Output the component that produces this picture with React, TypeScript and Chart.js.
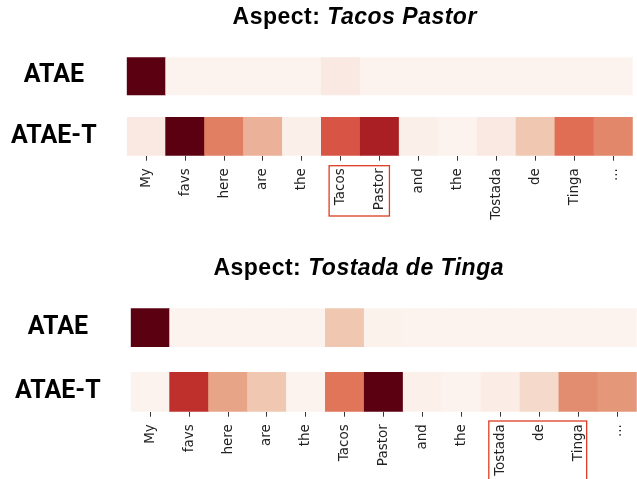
import React, { useEffect, useRef } from 'react';
import { Chart, registerables } from 'chart.js';

Chart.register(...registerables);

// ---------- data ----------
const TOKENS = ['My', 'favs', 'here', 'are', 'the', 'Tacos', 'Pastor', 'and', 'the', 'Tostada', 'de', 'Tinga', '...'];
const ROW_LABELS = ['ATAE', 'ATAE-T'];

const ASPECT_1 = 'Tacos Pastor';
const ASPECT_1_SPAN = [5, 6];
const ATAE_1 = [1.0, 0.01, 0.01, 0.01, 0.01, 0.09, 0.01, 0.01, 0.01, 0.01, 0.01, 0.01, 0.01];
const ATAE_T_1 = [0.09, 1.0, 0.5, 0.32, 0.04, 0.6, 0.85, 0.04, 0.01, 0.09, 0.25, 0.55, 0.47];

const ASPECT_2 = 'Tostada de Tinga';
const ASPECT_2_SPAN = [9, 11];
const ATAE_2 = [1.0, 0.01, 0.01, 0.01, 0.01, 0.25, 0.02, 0.01, 0.01, 0.01, 0.01, 0.01, 0.01];
const ATAE_T_2 = [0.01, 0.72, 0.38, 0.25, 0.01, 0.53, 1.0, 0.03, 0.01, 0.06, 0.18, 0.45, 0.42];

// colormap (Reds-like, as seen in the picture)
const CMAP_POS = [0.0, 0.1, 0.2, 0.25, 0.32, 0.38, 0.45, 0.5, 0.55, 0.6, 0.72, 0.85, 1.0];
const CMAP_COL = ['#fdf4ef', '#f9e8e0', '#f4d5c5', '#f0c8b2', '#ecb199', '#e8a487', '#e38d70', '#e07f62', '#e06e55', '#d85444', '#bf302c', '#aa1f24', '#5b0011'];

function hexToRgb(h: string): number[] {
  const n = parseInt(h.slice(1), 16);
  return [(n >> 16) & 255, (n >> 8) & 255, n & 255];
}

function colorFor(v: number): string {
  const t = Math.max(0, Math.min(1, v));
  let i = 0;
  while (i < CMAP_POS.length - 2 && t > CMAP_POS[i + 1]) i++;
  const a = hexToRgb(CMAP_COL[i]);
  const b = hexToRgb(CMAP_COL[i + 1]);
  const f = (t - CMAP_POS[i]) / (CMAP_POS[i + 1] - CMAP_POS[i]);
  const c = a.map((x, k) => Math.round(x + (b[k] - x) * f));
  return `rgb(${c[0]},${c[1]},${c[2]})`;
}

// ---------- decoration plugin: mixed-style title + aspect box ----------
const decoPlugin = {
  id: 'deco',
  afterDraw(chart: any, _args: any, opts: any) {
    const { ctx, chartArea } = chart;
    const xs = chart.scales.x;
    ctx.save();
    const f1 = 'bold 23px "Liberation Sans", Arial, sans-serif';
    const f2 = 'italic bold 23px "Liberation Sans", Arial, sans-serif';
    try {
      (ctx as any).letterSpacing = '0.5px';
    } catch (e) {}
    ctx.fillStyle = '#000';
    ctx.textBaseline = 'alphabetic';
    ctx.textAlign = 'left';
    ctx.font = f1;
    const w1 = ctx.measureText('Aspect: ').width;
    ctx.font = f2;
    const w2 = ctx.measureText(opts.aspect).width;
    const sx = chartArea.left + opts.titleDx - (w1 + w2) / 2;
    ctx.font = f1;
    ctx.fillText('Aspect: ', sx, opts.titleY);
    ctx.font = f2;
    ctx.fillText(opts.aspect, sx + w1, opts.titleY);
    try {
      (ctx as any).letterSpacing = '0px';
    } catch (e) {}

    const l = xs.getPixelForTick(opts.span[0]) - 11.7;
    const r = xs.getPixelForTick(opts.span[1]) + opts.boxRight;
    const t = chartArea.bottom + opts.boxTop;
    ctx.strokeStyle = '#dc3d22';
    ctx.lineWidth = 1.3;
    ctx.strokeRect(l, t, r - l, opts.boxH);
    ctx.restore();
  },
};

type PanelProps = {
  top: number;
  width: number;
  height: number;
  areaTop: number;
  areaBottom: number;
  areaLeft: number;
  yMax: number;
  gapLo: number;
  atae: number[];
  ataeT: number[];
  aspect: string;
  span: number[];
  titleY: number;
  titleDx: number;
  boxTop: number;
  boxH: number;
  boxRight: number;
};

function Panel(p: PanelProps) {
  const ref = useRef<HTMLCanvasElement>(null);
  useEffect(() => {
    if (!ref.current) return;
    const chart = new Chart(ref.current, {
      type: 'bar',
      data: {
        labels: TOKENS,
        datasets: [
          {
            label: ROW_LABELS[1],
            data: TOKENS.map(() => [0, 1]) as any,
            backgroundColor: p.ataeT.map(colorFor),
            grouped: false,
            barPercentage: 1,
            categoryPercentage: 1,
            borderWidth: 0,
          } as any,
          {
            label: ROW_LABELS[0],
            data: TOKENS.map(() => [p.gapLo, p.yMax]) as any,
            backgroundColor: p.atae.map(colorFor),
            grouped: false,
            barPercentage: 1,
            categoryPercentage: 1,
            borderWidth: 0,
          } as any,
        ],
      },
      options: {
        animation: false,
        responsive: false,
        maintainAspectRatio: false,
        layout: { padding: { top: p.areaTop, left: 0, right: 0, bottom: 0 } },
        plugins: {
          legend: { display: false },
          tooltip: { enabled: false },
          title: { display: false },
          deco: {
            aspect: p.aspect,
            span: p.span,
            titleY: p.titleY,
            titleDx: p.titleDx,
            boxTop: p.boxTop,
            boxH: p.boxH,
            boxRight: p.boxRight,
          },
        } as any,
        scales: {
          x: {
            type: 'category',
            offset: true,
            grid: {
              display: true,
              drawOnChartArea: false,
              drawTicks: true,
              tickLength: 5,
              offset: false,
              color: '#333',
              lineWidth: 1,
            },
            border: { display: false },
            ticks: {
              autoSkip: false,
              maxRotation: 90,
              minRotation: 90,
              padding: 7.5,
              color: '#222',
              font: { family: 'DejaVu Sans', size: 13.5 },
            },
            afterFit: (s: any) => {
              s.height = p.height - p.areaBottom;
            },
          } as any,
          y: {
            type: 'linear',
            min: 0,
            max: p.yMax,
            afterBuildTicks: (s: any) => {
              s.ticks = [{ value: 0.5 }, { value: (p.gapLo + p.yMax) / 2 }];
            },
            afterFit: (s: any) => {
              s.width = p.areaLeft;
            },
            grid: { display: false },
            border: { display: false },
            ticks: {
              crossAlign: 'center',
              padding: 22,
              color: '#000',
              font: { family: 'Roboto', weight: 'bold', size: 25 },
              callback: (_v: any, i: number) => (i === 0 ? ROW_LABELS[1] : ROW_LABELS[0]),
            },
          } as any,
        },
      },
      plugins: [decoPlugin as any],
    });
    return () => chart.destroy();
  }, []);
  return (
    <canvas
      ref={ref}
      width={p.width}
      height={p.height}
      style={{ position: 'absolute', left: 0, top: p.top, width: p.width, height: p.height }}
    />
  );
}

export default function App() {
  return (
    <div
      style={{
        position: 'fixed',
        left: 0,
        top: 0,
        width: 637,
        height: 479,
        overflow: 'hidden',
        background: '#fff',
      }}
    >
      <Panel
        top={0}
        width={637}
        height={240}
        areaTop={57.3}
        areaBottom={155.7}
        areaLeft={126.7}
        yMax={2.56}
        gapLo={1.58}
        atae={ATAE_1}
        ataeT={ATAE_T_1}
        aspect={ASPECT_1}
        span={ASPECT_1_SPAN}
        titleY={24}
        titleDx={228}
        boxTop={10}
        boxH={50.3}
        boxRight={9.7}
      />
      <Panel
        top={240}
        width={641}
        height={260}
        areaTop={68.3}
        areaBottom={171.7}
        areaLeft={130.7}
        yMax={2.624}
        gapLo={1.65}
        atae={ATAE_2}
        ataeT={ATAE_T_2}
        aspect={ASPECT_2}
        span={ASPECT_2_SPAN}
        titleY={34.5}
        titleDx={228}
        boxTop={9.3}
        boxH={64}
        boxRight={8.3}
      />
    </div>
  );
}
